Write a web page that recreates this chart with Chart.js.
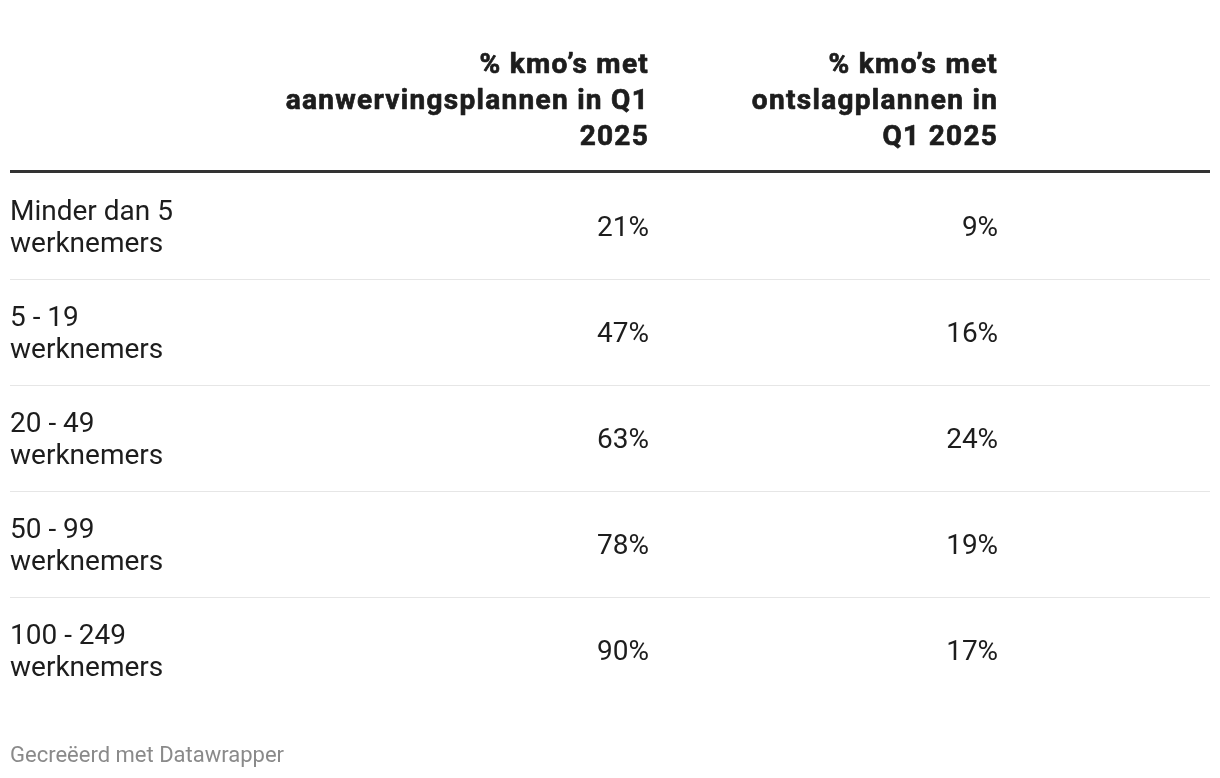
<!DOCTYPE html>
<html lang="nl">
<head>
    <meta charset="UTF-8">
    <title>Kmo's met aanwervings- en ontslagplannen in Q1 2025</title>
    <script src="https://cdn.jsdelivr.net/npm/chart.js"></script>
    <style>
        html, body { margin: 0; padding: 0; background: #fff; }
        #wrap { width: 1220px; height: 778px; position: relative; }
    </style>
</head>
<body>
    <div id="wrap"><canvas id="tabel"></canvas></div>

    <script>
        // rijen van de tabel (grootteklasse)
        const rijen = [
            ['Minder dan 5', 'werknemers'],
            ['5 - 19', 'werknemers'],
            ['20 - 49', 'werknemers'],
            ['50 - 99', 'werknemers'],
            ['100 - 249', 'werknemers']
        ];
        // kolomkoppen
        const kolommen = [
            ['% kmo’s met', 'aanwervingsplannen in Q1', '2025'],
            ['% kmo’s met', 'ontslagplannen in', 'Q1 2025']
        ];
        const aanwerving = [21, 47, 63, 78, 90];
        const ontslag = [9, 16, 24, 19, 17];
        const bron = 'Gecreëerd met Datawrapper';

        const tekstKleur = '#1d1d1d';

        const tabelTekst = {
            id: 'tabelTekst',
            afterDraw(chart) {
                const ctx = chart.ctx;
                const area = chart.chartArea;
                const xs = chart.scales.x;
                ctx.save();

                // kolomkoppen (zwaarder en breder, zoals in het origineel)
                ctx.fillStyle = tekstKleur;
                ctx.strokeStyle = tekstKleur;
                ctx.lineWidth = 0.7;
                ctx.lineJoin = 'round';
                ctx.font = 'bold 28px Roboto';
                ctx.letterSpacing = '1.3px';
                ctx.textAlign = 'right';
                ctx.textBaseline = 'alphabetic';
                kolommen.forEach((regels, j) => {
                    const x = xs.getPixelForValue(j);
                    regels.forEach((r, k) => {
                        const y = area.top - 100 + k * 36;
                        ctx.fillText(r, x, y);
                        ctx.strokeText(r, x, y);
                    });
                });
                ctx.letterSpacing = '0px';

                // dikke lijn onder de koppen
                ctx.strokeStyle = '#333333';
                ctx.lineWidth = 3;
                ctx.beginPath();
                ctx.moveTo(area.left, area.top - 1.5);
                ctx.lineTo(area.right, area.top - 1.5);
                ctx.stroke();

                // waarden
                ctx.font = '28px Roboto';
                chart.data.datasets.forEach((ds, d) => {
                    const meta = chart.getDatasetMeta(d);
                    meta.data.forEach((pt, i) => {
                        ctx.fillText(ds.waarden[i] + '%', pt.x, pt.y + 10);
                    });
                });

                // bron
                ctx.fillStyle = '#8a8a8a';
                ctx.font = '22px Roboto';
                ctx.textAlign = 'left';
                ctx.fillText(bron, area.left, area.bottom + 59);
                ctx.restore();
            }
        };

        new Chart(document.getElementById('tabel'), {
            type: 'scatter',
            data: {
                labels: rijen,
                datasets: [
                    {
                        label: kolommen[0].join(' '),
                        waarden: aanwerving,
                        data: aanwerving.map((v, i) => ({ x: 0, y: i })),
                        pointRadius: 0
                    },
                    {
                        label: kolommen[1].join(' '),
                        waarden: ontslag,
                        data: ontslag.map((v, i) => ({ x: 1, y: i })),
                        pointRadius: 0
                    }
                ]
            },
            options: {
                responsive: true,
                maintainAspectRatio: false,
                animation: false,
                layout: { padding: { top: 173, left: 10, right: 10, bottom: 75 } },
                plugins: {
                    legend: { display: false },
                    tooltip: { enabled: false }
                },
                scales: {
                    x: {
                        type: 'linear',
                        display: false,
                        min: -1.831,
                        max: 1.607
                    },
                    y: {
                        type: 'category',
                        offset: true,
                        border: { display: false },
                        grid: {
                            offset: true,
                            drawTicks: false,
                            lineWidth: 1,
                            color: c => (c.type === 'tick' && c.index > 0) ? '#e6e6e6' : 'rgba(0,0,0,0)'
                        },
                        ticks: {
                            mirror: true,
                            padding: 0,
                            labelOffset: 3,
                            autoSkip: false,
                            color: tekstKleur,
                            font: { family: 'Roboto', size: 28, lineHeight: 32 / 28 }
                        }
                    }
                }
            },
            plugins: [tabelTekst]
        });
    </script>
</body>
</html>
